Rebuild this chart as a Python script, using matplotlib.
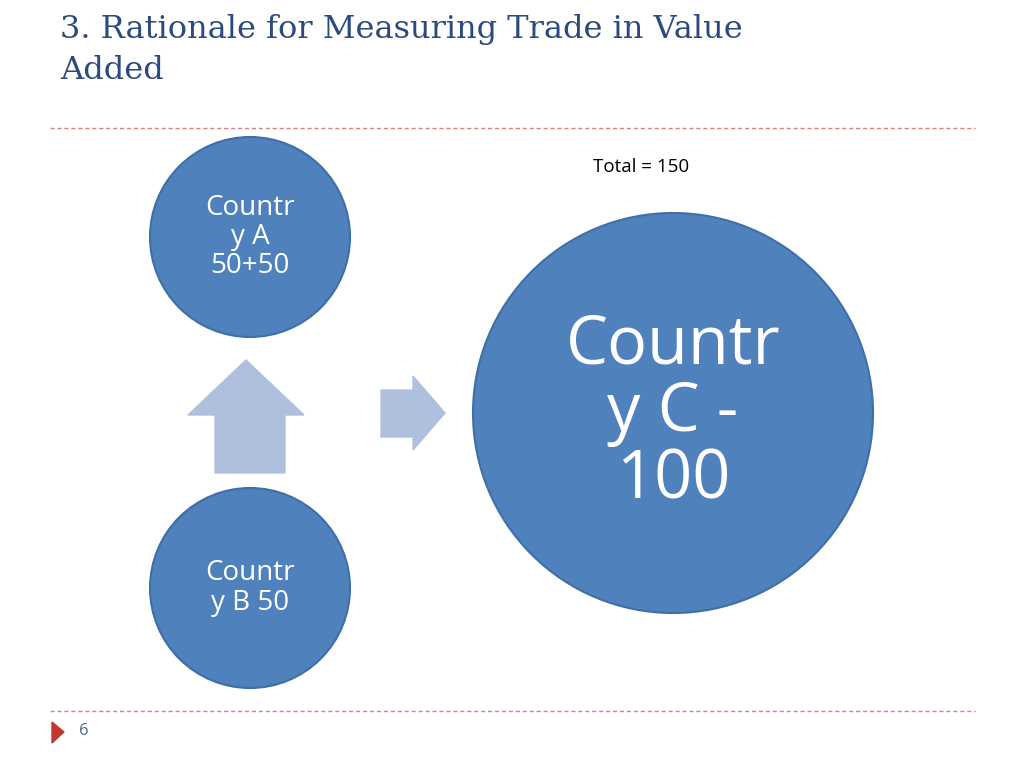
import matplotlib
matplotlib.use("Agg")
import matplotlib.pyplot as plt
from matplotlib.patches import Circle, Polygon

title = "3. Rationale for Measuring Trade in Value\nAdded"
labels = ["Countr\ny A\n50+50", "Countr\ny B 50", "Countr\ny C -\n100"]
total_label = "Total = 150"
page = "6"

fig = plt.figure(figsize=(10.24, 7.68), dpi=100)
ax = fig.add_axes([0, 0, 1, 1])
ax.set_xlim(0, 1024); ax.set_ylim(768, 0); ax.axis("off")

fill = "#4F81BD"; edge = "#3F6FA8"; light = "#AFC0DE"
ax.text(60, 50, title, fontsize=23, family="DejaVu Serif", color="#2B4A80",
        va="center", ha="left", linespacing=1.45)
for y in (128, 711):
    ax.plot([50, 975], [y, y], ls=(0, (3, 2)), color="#D98080", lw=1)
ax.add_patch(Polygon([[52, 722], [52, 743], [64, 732]], color="#C0392B"))
ax.text(84, 731, page, fontsize=12, color="#4A6A90", va="center", ha="center", family="Open Sans")

circles = [((250, 237), 100, 20), ((250, 588), 100, 20), ((673, 413), 200, 48)]
for (c, r, fs), lab in zip(circles, labels):
    ax.add_patch(Circle(c, r, facecolor=fill, edgecolor=edge, lw=1.5))
    ax.text(c[0], c[1], lab, fontsize=fs, color="white", ha="center", va="center",
            family="Open Sans", linespacing=1.0 if fs > 30 else 1.05)

ax.add_patch(Polygon([[215, 473], [215, 415], [188, 415], [246, 360], [304, 415],
                      [285, 415], [285, 473]], color=light))
ax.add_patch(Polygon([[381, 390], [413, 390], [413, 376], [445, 413], [413, 450],
                      [413, 437], [381, 437]], color=light))
ax.text(641, 167, total_label, fontsize=13.5, family="Open Sans", ha="center", va="center")

fig.savefig("out.png", dpi=100)
